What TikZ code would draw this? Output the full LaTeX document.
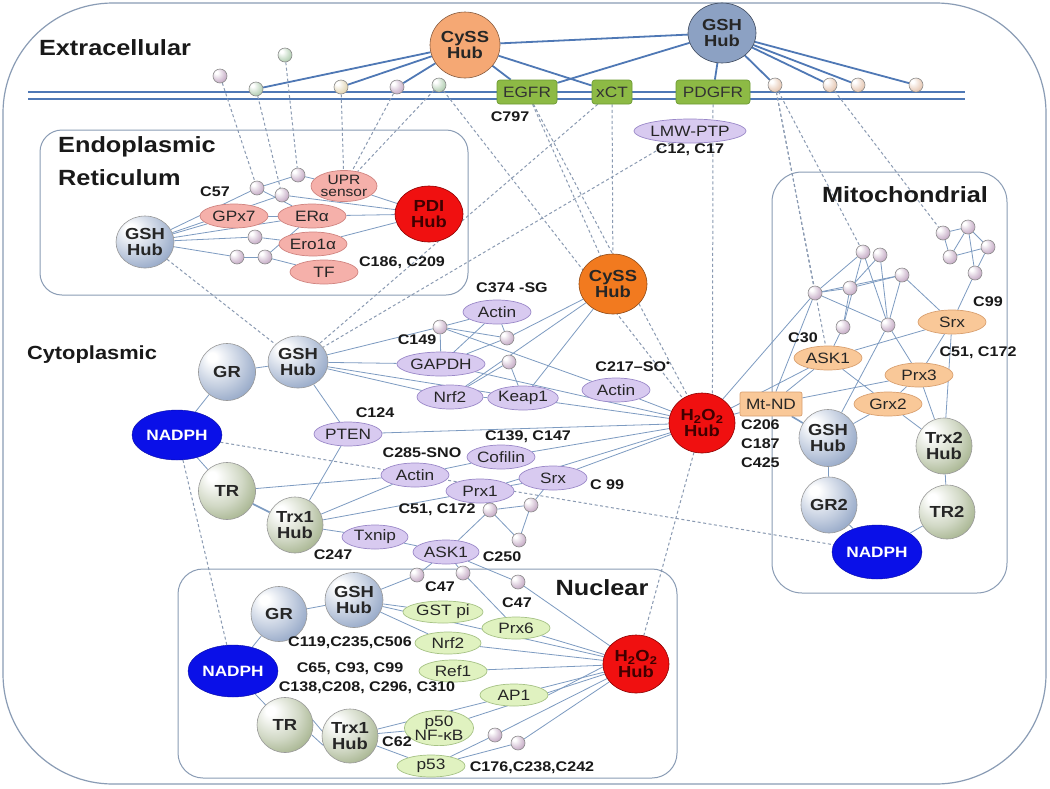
\documentclass[tikz,border=0pt]{standalone}
\usepackage{fontspec}
\setmainfont{Liberation Sans}[FakeStretch=1.15]
\usetikzlibrary{shapes.geometric}
\definecolor{lnk}{HTML}{7D9BC1}
\definecolor{memb}{HTML}{4F78B5}
\definecolor{dsh}{HTML}{8A9AB2}
\definecolor{lavf}{HTML}{D8CAF0}
\definecolor{lavd}{HTML}{9A88C8}
\definecolor{pinkf}{HTML}{F5B0AA}
\definecolor{pinkd}{HTML}{D08480}
\definecolor{grnf}{HTML}{E0F2C0}
\definecolor{grnd}{HTML}{A6C285}
\definecolor{orf}{HTML}{F9C898}
\definecolor{ord}{HTML}{D9A070}
\definecolor{rcpf}{HTML}{8DBA45}
\definecolor{rcpd}{HTML}{6C9A32}
\definecolor{hubred}{HTML}{F01010}
\definecolor{nadph}{HTML}{0A10E8}
\definecolor{cysl}{HTML}{F5A874}
\definecolor{cysd}{HTML}{F27A1F}
\definecolor{gshc}{HTML}{7890B8}
\definecolor{trc}{HTML}{8C9E6E}
\definecolor{boxc}{HTML}{8A9CB5}
\definecolor{sbc}{HTML}{A880A8}
\definecolor{sbg}{HTML}{88B488}
\definecolor{sby}{HTML}{D0BC88}
\definecolor{sbo}{HTML}{D8A888}
\pgfdeclareradialshading{gshball}{\pgfpoint{-14bp}{14bp}}{color(0bp)=(white); color(4bp)=(white); color(22bp)=(gshc!45!white); color(42bp)=(gshc); color(60bp)=(gshc!65!black)}
\pgfdeclareradialshading{trball}{\pgfpoint{-14bp}{14bp}}{color(0bp)=(white); color(4bp)=(white); color(22bp)=(trc!40!white); color(42bp)=(trc); color(60bp)=(trc!65!black)}
\pgfdeclareradialshading{smball}{\pgfpoint{-14bp}{14bp}}{color(0bp)=(white); color(5bp)=(white); color(25bp)=(sbc!50!white); color(45bp)=(sbc); color(60bp)=(sbc!65!black)}
\pgfdeclareradialshading{smgreen}{\pgfpoint{-14bp}{14bp}}{color(0bp)=(white); color(5bp)=(white); color(25bp)=(sbg!50!white); color(45bp)=(sbg); color(60bp)=(sbg!65!black)}
\pgfdeclareradialshading{smyel}{\pgfpoint{-14bp}{14bp}}{color(0bp)=(white); color(5bp)=(white); color(25bp)=(sby!50!white); color(45bp)=(sby); color(60bp)=(sby!65!black)}
\pgfdeclareradialshading{smor}{\pgfpoint{-14bp}{14bp}}{color(0bp)=(white); color(5bp)=(white); color(25bp)=(sbo!50!white); color(45bp)=(sbo); color(60bp)=(sbo!65!black)}
\pgfdeclarelayer{bg}
\pgfsetlayers{bg,main}
\tikzset{
  prot/.style={ellipse, inner sep=0pt, minimum width=68, minimum height=24, line width=0.7pt, font=\fontsize{15}{13}\selectfont, text=black!85, align=center},
  cyt/.style={prot, draw=lavd, fill=lavf},
  erp/.style={prot, draw=pinkd, fill=pinkf},
  nucp/.style={prot, draw=grnd, fill=grnf, minimum height=22},
  mitp/.style={prot, draw=ord, fill=orf},
  hub/.style={ellipse, inner sep=0pt, align=center, draw=black!40, line width=0.6pt, font=\bfseries\fontsize{16}{16}\selectfont, text=black!85},
  gshhub/.style={hub, shading=gshball},
  trhub/.style={hub, shading=trball},
  redhub/.style={hub, fill=hubred, draw=red!55!black, text=red!25!black},
  nad/.style={ellipse, inner sep=0pt, minimum width=90, minimum height=50, fill=nadph, draw=nadph!70!black, text=white, font=\bfseries\fontsize{15}{15}\selectfont},
  sb/.style={circle, inner sep=0pt, minimum size=14, draw=black!45, line width=0.6pt, shading=smball},
  cys/.style={inner sep=0pt, font=\bfseries\fontsize{14}{14}\selectfont, text=black!90},
  hdr/.style={inner sep=0pt, font=\bfseries\fontsize{22}{22}\selectfont, text=black!90},
  rcp/.style={rectangle, rounded corners=3pt, inner sep=0pt, minimum height=24, fill=rcpf, draw=rcpd, line width=0.7pt, font=\fontsize{15}{15}\selectfont, text=black!80},
  lk/.style={draw=lnk, line width=0.8pt},
  mb/.style={draw=memb, line width=1.8pt},
  dl/.style={draw=dsh, line width=1pt, dash pattern=on 3pt off 2.5pt},
  cbox/.style={draw=boxc, line width=1pt},
}
\begin{document}
\begin{tikzpicture}[x=1pt,y=-1pt]
\useasboundingbox (0,0) rectangle (1050,788);
\begin{pgfonlayer}{bg}
\fill[white] (0,0) rectangle (1050,788);
\draw[cbox, line width=1.2pt, rounded corners=110] (3,3) rectangle (1046,784);
\draw[cbox, rounded corners=22] (40,130) rectangle (468,295);
\draw[cbox, rounded corners=30] (772,172) rectangle (1007,593);
\draw[cbox, rounded corners=25] (178,569) rectangle (677,778);
\draw[mb] (28,92) -- (965,92);
\draw[mb] (28,99) -- (965,99);
\end{pgfonlayer}

% ---------- Extracellular ----------
\node[hdr] (extl) at (115,48) {Extracellular};
\node[hub, fill=cysl, draw=cysl!55!black, minimum width=70, minimum height=66] (cysT) at (465,45) {CySS\\Hub};
\node[hub, fill=gshc!85!white, draw=gshc!50!black, minimum width=68, minimum height=60] (gshT) at (722,33) {GSH\\Hub};
\node[sb] (e1) at (220,76) {};
\node[sb, shading=smgreen] (e2) at (256,89) {};
\node[sb, shading=smgreen] (e3) at (285,55) {};
\node[sb, shading=smyel] (e4) at (341,87) {};
\node[sb] (e5) at (397,87) {};
\node[sb, shading=smgreen] (e6) at (439,85) {};
\node[sb, shading=smor] (e7) at (775,85) {};
\node[sb, shading=smor] (e8) at (830,85) {};
\node[sb, shading=smor] (e9) at (858,85) {};
\node[sb, shading=smor] (e10) at (916,85) {};
\node[rcp, minimum width=60] (egfr) at (527,92) {EGFR};
\node[rcp, minimum width=40] (xct) at (612,92) {xCT};
\node[rcp, minimum width=74] (pdgfr) at (713,92) {PDGFR};
\node[cys] (c797) at (510,117) {C797};
\node[cyt, minimum width=92] (lmw) at (690,131) {LMW-PTP};
\node[cys] (c12) at (690,150) {C12, C17};

% ---------- ER ----------
\node[hdr, anchor=west] (endo) at (58,147) {Endoplasmic};
\node[hdr, anchor=west] (reti) at (58,178) {Reticulum};
\node[gshhub, minimum width=58, minimum height=52] (gshER) at (145,242) {GSH\\Hub};
\node[erp] (gpx7) at (234,216) {GPx7};
\node[erp] (era) at (312,216) {ERα};
\node[erp, minimum width=66, minimum height=30, font=\fontsize{13.5}{12.5}\selectfont] (upr) at (344,186) {UPR\\sensor};
\node[erp] (ero) at (313,244) {Ero1α};
\node[erp] (tf) at (324,272) {TF};
\node[redhub, minimum width=68, minimum height=56] (pdi) at (429,214) {PDI\\Hub};
\node[cys] (c57) at (215,192) {C57};
\node[cys] (c186) at (402,263) {C186, C209};
\node[sb] (r1) at (257,188) {};
\node[sb] (r2) at (282,195) {};
\node[sb] (r3) at (298,175) {};
\node[sb] (r4) at (255,237) {};
\node[sb] (r5) at (237,257) {};
\node[sb] (r6) at (265,257) {};

% ---------- Cytoplasm ----------
\node[hdr, font=\bfseries\fontsize{19}{19}\selectfont] (cytl) at (92,355) {Cytoplasmic};
\node[gshhub, minimum width=57, minimum height=57] (grC) at (227,372) {GR};
\node[gshhub, minimum width=60, minimum height=52] (gshC) at (298,362) {GSH\\Hub};
\node[nad] (nadC) at (177,435) {NADPH};
\node[trhub, minimum width=57, minimum height=57] (trC) at (227,491) {TR};
\node[trhub, minimum width=56, minimum height=56] (trx1C) at (295,525) {Trx1\\Hub};
\node[cyt] (actA) at (497,312) {Actin};
\node[cys] (c374) at (512,288) {C374 -SG};
\node[cys] (c149) at (417,340) {C149};
\node[cyt, minimum width=88] (gapdh) at (441,364) {GAPDH};
\node[cyt, minimum width=66] (nrf2C) at (450,397) {Nrf2};
\node[cyt] (keap1) at (523,398) {Keap1};
\node[cyt] (actB) at (616,390) {Actin};
\node[cys] (c217) at (633,367) {C217–SO\textsuperscript{•}};
\node[hub, fill=cysd, draw=cysd!60!black, minimum width=68, minimum height=60] (cysC) at (613,284) {CySS\\Hub};
\node[redhub, minimum width=66, minimum height=60] (h2o2C) at (702,423) {H\textsubscript{2}O\textsubscript{2}\\Hub};
\node[cyt] (pten) at (348,434) {PTEN};
\node[cys] (c124) at (375,413) {C124};
\node[cys] (c139) at (528,437) {C139, C147};
\node[cyt] (cofilin) at (501,457) {Cofilin};
\node[cys] (c285) at (422,453) {C285-SNO};
\node[cyt] (actC) at (415,475) {Actin};
\node[cyt] (prx1) at (480,491) {Prx1};
\node[cyt] (srxC) at (553,478) {Srx};
\node[cys] (c99C) at (607,485) {C 99};
\node[cys] (c51C) at (437,510) {C51, C172};
\node[cyt, minimum width=66] (txnip) at (375,537) {Txnip};
\node[cys] (c247) at (333,555) {C247};
\node[cyt, minimum width=66] (ask1C) at (446,552) {ASK1};
\node[cys] (c250) at (502,557) {C250};
\node[sb] (cb1) at (440,327) {};
\node[sb] (cb2) at (507,338) {};
\node[sb] (cb3) at (509,362) {};
\node[sb] (cb4) at (490,510) {};
\node[sb] (cb5) at (531,505) {};
\node[sb] (cb6) at (519,540) {};
\node[sb] (nb1) at (417,575) {};
\node[sb] (nb2) at (463,573) {};
\node[sb] (nb3) at (518,582) {};

% ---------- Mitochondria ----------
\node[hdr] (mitl) at (905,195) {Mitochondrial};
\node[mitp] (srxM) at (952,322) {Srx};
\node[cys] (c99M) at (988,302) {C99};
\node[mitp] (ask1M) at (828,358) {ASK1};
\node[cys] (c30) at (803,338) {C30};
\node[mitp] (prx3) at (919,375) {Prx3};
\node[cys] (c51M) at (978,353) {C51, C172};
\node[mitp] (grx2) at (888,404) {Grx2};
\node[rectangle, rounded corners=2pt, inner sep=0pt, minimum width=62, minimum height=24, fill=orf, draw=ord, line width=0.7pt, font=\fontsize{15}{15}\selectfont, text=black!85] (mtnd) at (771,404) {Mt-ND};
\node[cys, anchor=west] (c206) at (741,425) {C206};
\node[cys, anchor=west] (c187) at (741,444) {C187};
\node[cys, anchor=west] (c425) at (741,463) {C425};
\node[gshhub, minimum width=58, minimum height=57] (gshM) at (828,438) {GSH\\Hub};
\node[trhub, minimum width=56, minimum height=56] (trx2) at (944,446) {Trx2\\Hub};
\node[gshhub, minimum width=56, minimum height=56] (gr2) at (829,505) {GR2};
\node[trhub, minimum width=56, minimum height=54] (tr2) at (947,512) {TR2};
\node[nad, minimum height=54] (nadM) at (877,552) {NADPH};
\node[sb] (mA1) at (863,252) {};
\node[sb] (mA2) at (880,255) {};
\node[sb] (mA3) at (902,275) {};
\node[sb] (mA4) at (815,293) {};
\node[sb] (mA5) at (850,288) {};
\node[sb] (mA6) at (843,327) {};
\node[sb] (mA7) at (888,325) {};
\node[sb] (mB1) at (943,233) {};
\node[sb] (mB2) at (968,227) {};
\node[sb] (mB3) at (988,247) {};
\node[sb] (mB4) at (950,257) {};
\node[sb] (mB5) at (975,273) {};

% ---------- Nucleus ----------
\node[hdr] (nucl) at (602,588) {Nuclear};
\node[gshhub, minimum width=56, minimum height=55] (grN) at (279,614) {GR};
\node[gshhub, minimum width=58, minimum height=55] (gshN) at (354,600) {GSH\\Hub};
\node[nad, minimum height=52] (nadN) at (233,671) {NADPH};
\node[trhub, minimum width=56, minimum height=55] (trN) at (285,725) {TR};
\node[trhub, minimum width=56, minimum height=54] (trx1N) at (350,736) {Trx1\\Hub};
\node[nucp, minimum width=80] (gstpi) at (443,612) {GST pi};
\node[cys] (c47a) at (440,587) {C47};
\node[cys] (c47b) at (517,603) {C47};
\node[nucp] (prx6) at (516,628) {Prx6};
\node[nucp, minimum width=66] (nrf2N) at (448,643) {Nrf2};
\node[cys] (c119) at (350,643) {C119,C235,C506};
\node[nucp] (ref1) at (453,671) {Ref1};
\node[cys] (c65) at (350,669) {C65, C93, C99};
\node[cys] (c138) at (367,688) {C138,C208, C296, C310};
\node[nucp] (ap1) at (514,695) {AP1};
\node[nucp, minimum height=34] (p50) at (439,728) {p50\\NF-κB};
\node[cys] (c62) at (397,742) {C62};
\node[nucp] (p53) at (431,766) {p53};
\node[cys] (c176) at (532,768) {C176,C238,C242};
\node[sb] (nb4) at (495,735) {};
\node[sb] (nb5) at (518,743) {};
\node[redhub, minimum width=66, minimum height=58] (h2o2N) at (636,664) {H\textsubscript{2}O\textsubscript{2}\\Hub};

% ---------- connectors ----------
\begin{pgfonlayer}{bg}
\foreach \a/\b in {cysT/e2, cysT/e4, cysT/e5, cysT/egfr, cysT/xct, cysT/gshT, gshT/egfr, gshT/pdgfr, gshT/e7, gshT/e8, gshT/e9, gshT/e10}
  \draw[mb] (\a) -- (\b);
\foreach \a/\b in {e1/r1, e2/r2, e3/r3, e4/upr, e5/upr, e6/upr, e6/h2o2C, egfr/cysC, egfr/h2o2C, xct/cysC, xct/gshC, lmw/gshC, gshER/gshC, e7/mA4, e7/ask1M, e7/mA1, e8/mB1, h2o2C/h2o2N, nadC/nadM, nadC/nadN}
  \draw[dl] (\a) -- (\b);
\draw[dl] (pdgfr.south) -- (h2o2C.70);
% ER
\foreach \a/\b in {gshER/r1, r1/r3, r3/upr, gshER/gpx7, gpx7/era, gshER/r2, r2/pdi, gshER/era, gshER/r4, r4/ero, gshER/r5, r5/r6, r6/tf, r6/era, era/pdi, ero/pdi, upr/pdi, r1/era}
  \draw[lk] (\a) -- (\b);
% cytoplasm
\foreach \a/\b in {grC/gshC, grC/nadC, nadC/trC, gshC/cb1, gshC/gapdh, gshC/nrf2C, gshC/keap1, gshC/pten, cb1/actA, cb1/gapdh, cb1/cb2, cb1/actB, actA/gapdh, actA/cb2, cb2/gapdh, cb3/nrf2C, cb3/keap1, cysC/nrf2C, cysC/keap1, cysC/cb2, nrf2C/keap1, gapdh/h2o2C, keap1/h2o2C, actB/h2o2C, pten/h2o2C, cofilin/h2o2C, srxC/h2o2C, prx1/h2o2C, trx1C/pten, trx1C/actC, trx1C/prx1, trx1C/txnip, trC/actC, txnip/ask1C, actC/cofilin, prx1/srxC, ask1C/cb4, cb4/cb5, cb4/cb6, cb5/cb6, cb5/srxC, cb4/prx1, ask1C/nb1, ask1C/nb2, ask1C/nb3, nb1/gshN, nb2/prx6, nb3/h2o2N}
  \draw[lk] (\a) -- (\b);
\draw[lk, line width=1.6pt] (trC) -- (trx1C);
% mitochondria
\foreach \a/\b in {mA4/mA1, mA4/mA3, mA4/mA5, mA4/mA7, mA1/mA7, mA2/mA7, mA2/mA5, mA5/mA6, mA5/mA3, mA3/srxM, mA3/mA7, mA6/ask1M, mA7/prx3, mA7/gshM, mA6/mA1, mA4/mtnd, ask1M/grx2, ask1M/mtnd, srxM/prx3, srxM/trx2, srxM/mB5, srxM/ask1M, prx3/grx2, prx3/trx2, prx3/mtnd, grx2/gshM, grx2/trx2, gshM/gr2, gr2/nadM, nadM/tr2, tr2/trx2, mB1/mB2, mB1/mB4, mB2/mB3, mB2/mB4, mB2/mB5, mB3/mB4, mB3/mB5, h2o2C/mtnd, h2o2C/mA4, h2o2C/ask1M}
  \draw[lk] (\a) -- (\b);
\draw[lk, line width=1.6pt] (mtnd) -- (gshM);
% nucleus
\foreach \a/\b in {grN/gshN, grN/nadN, nadN/trN, gshN/gstpi, gshN/nrf2N, trx1N/ap1, trx1N/p50, trx1N/p53, p53/nb4, p53/nb5, nb4/h2o2N, nb5/h2o2N, prx6/h2o2N, nrf2N/h2o2N, ref1/h2o2N, ap1/h2o2N, p50/h2o2N, gshN/h2o2N}
  \draw[lk] (\a) -- (\b);
\draw[lk] (trN.10) -- (trx1N.170);
\draw[lk] (trN.-20) -- (trx1N.200);
\draw[lk] (ap1.east) -- (h2o2N.185);
\end{pgfonlayer}
\end{tikzpicture}
\end{document}
